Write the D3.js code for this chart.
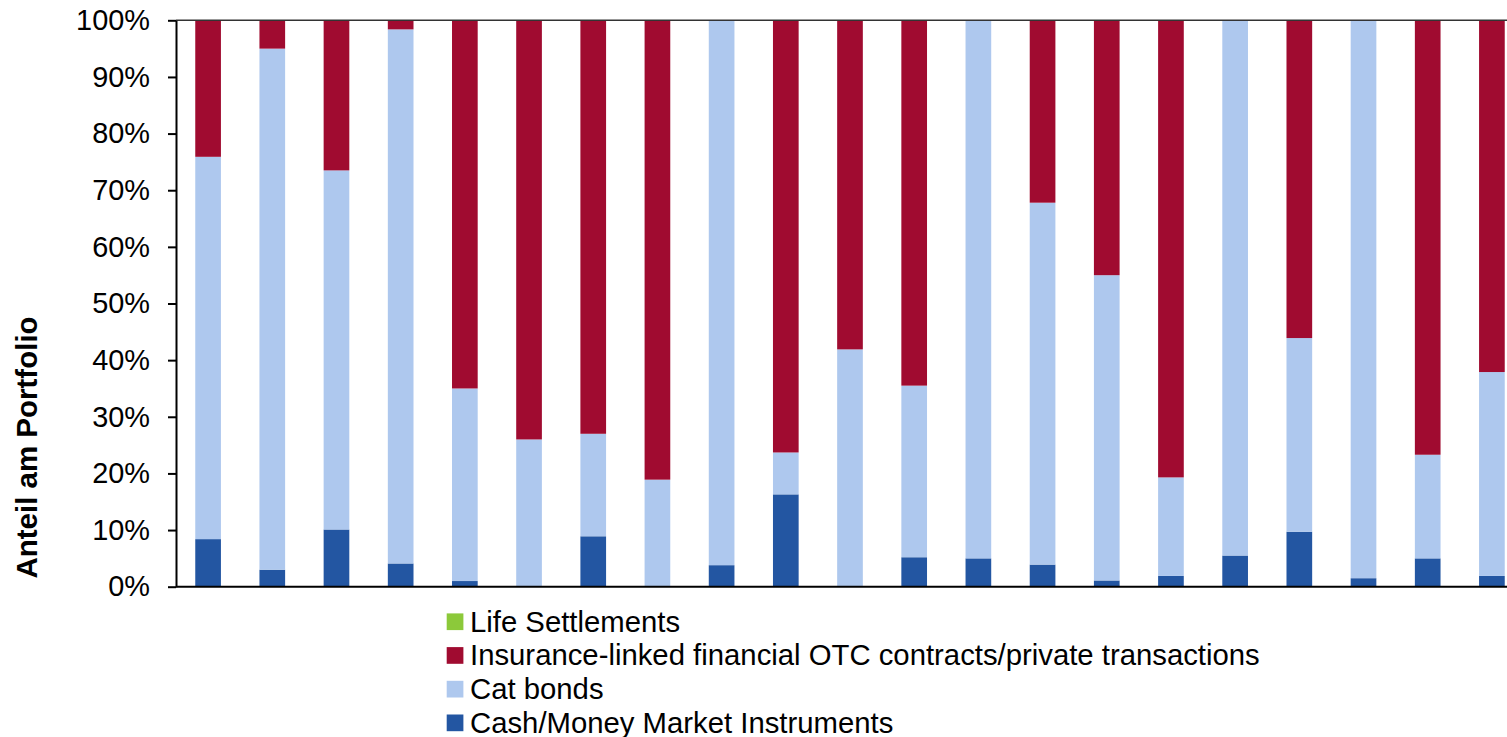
<!DOCTYPE html>
<html>
<head>
<meta charset="utf-8">
<script src="https://cdnjs.cloudflare.com/ajax/libs/d3/7.8.5/d3.min.js"></script>
<style>
  html, body { margin: 0; padding: 0; background: #fff; }
  svg { display: block; font-family: "Liberation Sans", Arial, sans-serif; }
</style>
</head>
<body>
<svg id="chart" width="1507" height="737"></svg>
<script>
// Shares per fund, in percent of the portfolio.
var categories = ["F01", "F02", "F03", "F04", "F05", "F06", "F07", "F08", "F09", "F10", "F11",
                  "F12", "F13", "F14", "F15", "F16", "F17", "F18", "F19", "F20", "F21"];

var cash      = [8.4, 3.0, 10.1, 4.1, 1.0, 0.0, 8.9, 0.0, 3.8, 16.3, 0.0, 5.2, 5.0, 3.9, 1.1, 1.9, 5.5, 9.7, 1.5, 5.0, 1.9];
var cat_bonds = [67.5, 92.0, 63.4, 94.3, 34.0, 26.0, 18.1, 18.9, 96.2, 7.4, 41.9, 30.3, 95.0, 63.9, 53.9, 17.4, 94.5, 34.2, 98.5, 18.3, 36.0];
var otc       = [24.1, 5.0, 26.5, 1.6, 65.0, 74.0, 73.0, 81.1, 0.0, 76.3, 58.1, 64.5, 0.0, 32.2, 45.0, 80.7, 0.0, 56.1, 0.0, 76.7, 62.1];
var life      = [0, 0, 0, 0, 0, 0, 0, 0, 0, 0, 0, 0, 0, 0, 0, 0, 0, 0, 0, 0, 0];

var y_ticks = [0, 0.1, 0.2, 0.3, 0.4, 0.5, 0.6, 0.7, 0.8, 0.9, 1];

var series_keys  = ["cash", "cat", "otc", "life"];
var series_names = {
  cash: "Cash/Money Market Instruments",
  cat:  "Cat bonds",
  otc:  "Insurance-linked financial OTC contracts/private transactions",
  life: "Life Settlements"
};
var colors = {
  cash: "#2356a2",
  cat:  "#aec8ee",
  otc:  "#a00b30",
  life: "#8cc93a"
};

var rows = categories.map(function (c, i) {
  return { name: c, cash: cash[i], cat: cat_bonds[i], otc: otc[i], life: life[i] };
});

var svg = d3.select("#chart");

// Plot area runs off the right edge of the picture, as in the original.
var plot_left   = 176;
var plot_top    = 20.3;
var plot_bottom = 586.7;
var plot_right  = plot_left + 64.19 * categories.length;

var x = d3.scaleBand()
  .domain(categories)
  .range([plot_left, plot_right])
  .paddingInner(0.6)
  .paddingOuter(0.3);

var y = d3.scaleLinear()
  .domain([0, 100])
  .range([plot_bottom, plot_top]);

var stacked = d3.stack().keys(series_keys)(rows);

svg.append("g")
  .selectAll("g")
  .data(stacked)
  .join("g")
  .attr("fill", function (d) { return colors[d.key]; })
  .selectAll("rect")
  .data(function (d) { return d; })
  .join("rect")
  .attr("x", function (d) { return x(d.data.name); })
  .attr("y", function (d) { return y(d[1]); })
  .attr("width", x.bandwidth())
  .attr("height", function (d) { return Math.max(0, y(d[0]) - y(d[1])); });

// Top border at 100%.
svg.append("line")
  .attr("x1", plot_left)
  .attr("x2", plot_right)
  .attr("y1", y(100))
  .attr("y2", y(100))
  .attr("stroke", "#333")
  .attr("stroke-width", 1.5);

// Baseline at 0%.
svg.append("line")
  .attr("x1", plot_left)
  .attr("x2", plot_right)
  .attr("y1", y(0))
  .attr("y2", y(0))
  .attr("stroke", "#000")
  .attr("stroke-width", 2);

var y_pct = d3.scaleLinear().domain([0, 1]).range([plot_bottom, plot_top]);

var y_axis = svg.append("g")
  .attr("transform", "translate(" + plot_left + ",0)")
  .call(d3.axisLeft(y_pct)
    .tickValues(y_ticks)
    .tickFormat(d3.format(".0%"))
    .tickSize(8)
    .tickSizeOuter(0)
    .tickPadding(18));

y_axis.select(".domain").attr("stroke", "#000").attr("stroke-width", 2);
y_axis.selectAll(".tick line").attr("stroke", "#000").attr("stroke-width", 2);
y_axis.selectAll(".tick text")
  .attr("fill", "#000")
  .style("font-size", "28.9px")
  .style("font-family", "'Liberation Sans', Arial, sans-serif");

svg.append("text")
  .attr("transform", "translate(36.5,447.5) rotate(-90)")
  .attr("text-anchor", "middle")
  .style("font-size", "29.5px")
  .style("font-weight", "bold")
  .text("Anteil am Portfolio");

// Legend, top series first.
var legend_keys = series_keys.slice().reverse();
var legend = svg.append("g")
  .selectAll("g")
  .data(legend_keys)
  .join("g")
  .attr("transform", function (d, i) { return "translate(446.7," + (621.7 + i * 33.7) + ")"; });

legend.append("rect")
  .attr("x", 0)
  .attr("y", -8.3)
  .attr("width", 16.7)
  .attr("height", 16.7)
  .attr("fill", function (d) { return colors[d]; });

legend.append("text")
  .attr("x", 23.3)
  .attr("y", 9.8)
  .style("font-size", "29.3px")
  .text(function (d) { return series_names[d]; });
</script>
</body>
</html>
